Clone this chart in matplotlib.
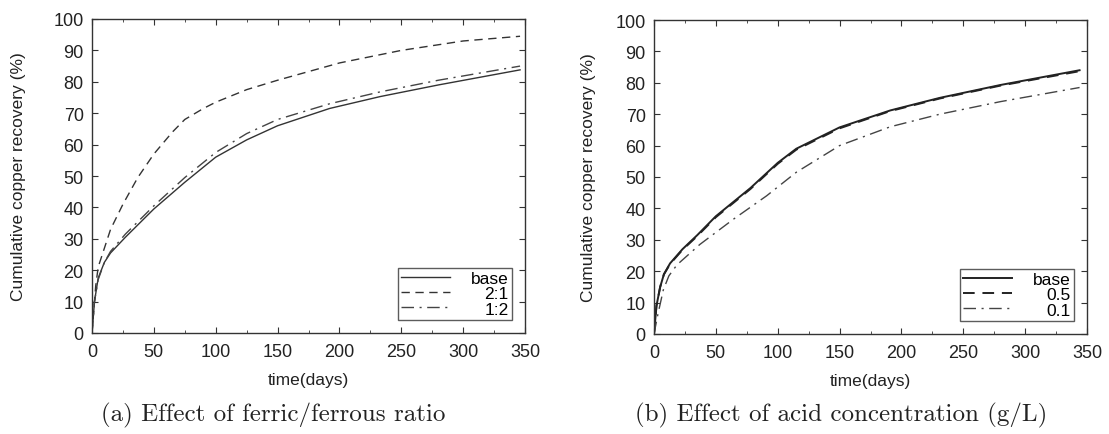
import matplotlib
matplotlib.use("Agg")
import matplotlib.pyplot as plt
from matplotlib.ticker import MultipleLocator

# ---- data: cumulative copper recovery (%) vs time (days) ----
# (a) ferric/ferrous ratio
t_base_a = [0, 2, 5, 10, 15, 27, 50, 75, 100, 125, 150, 192, 233, 280, 346]
y_base_a = [0, 10, 17.5, 22.5, 25.5, 30.5, 39.5, 48, 56, 61.5, 66, 71.5, 75.3, 79, 83.8]
t_21 = [0, 3, 5, 10, 15, 25, 37, 50, 65, 75, 90, 100, 125, 150, 200, 250, 300, 346]
y_21 = [0, 15, 21, 27, 33, 41, 49.5, 57, 64, 68, 71.5, 73.5, 77.5, 80.5, 86, 90, 93, 94.5]
t_12 = [0, 2, 5, 10, 15, 27, 50, 75, 100, 125, 150, 192, 233, 280, 346]
y_12 = [0, 10, 17, 22.5, 26, 31.5, 40.5, 49.5, 57.5, 63.5, 68, 73, 76.8, 80.5, 85]

# (b) acid concentration (g/L)
t_base_b = [0, 2, 5, 8, 13, 23, 35, 50, 78, 100, 115, 150, 191, 231, 280, 344]
y_base_b = [0, 9, 15, 19, 22.5, 27, 31.5, 37.5, 46.5, 54.5, 59, 65.8, 71.2, 75.2, 79.3, 84]
t_05 = [0, 2, 5, 8, 13, 23, 35, 50, 78, 100, 115, 150, 191, 231, 280, 344]
y_05 = [0, 9, 15, 19, 22.3, 26.8, 31.2, 37.2, 46.2, 54.2, 58.7, 65.5, 71, 75, 79.1, 83.7]
t_01 = [0, 3, 7.5, 12, 18.5, 37, 64, 91, 115, 150, 191, 231, 280, 344]
y_01 = [0, 6, 14, 18.5, 22, 28.5, 36.5, 44, 51.5, 60, 66, 70, 74, 78.5]

labels_a = ["base", "2:1", "1:2"]
labels_b = ["base", "0.5", "0.1"]
captions = ["(a) Effect of ferric/ferrous ratio",
            "(b) Effect of acid concentration (g/L)"]
x_ticks = [0, 50, 100, 150, 200, 250, 300, 350]
y_ticks = [0, 10, 20, 30, 40, 50, 60, 70, 80, 90, 100]

W, H = 1109, 435
fig = plt.figure(figsize=(W / 100, H / 100), dpi=100)
plt.rcParams["font.family"] = ["Liberation Sans", "DejaVu Sans"]

def px_axes(x0, x1, ytop, ybot):
    return fig.add_axes([x0 / W, (H - ybot) / H, (x1 - x0) / W, (ybot - ytop) / H])

ax_a = px_axes(92, 525, 20, 334)
ax_b = px_axes(654, 1087, 21, 335)

solid = dict(color="#333333", lw=1.0, linestyle="-")
dashed = dict(color="#333333", lw=1.0, linestyle=(0, (6, 4)))
dashdot = dict(color="#444444", lw=1.0, linestyle=(0, (9, 4, 1.5, 4)))

ax_a.plot(t_base_a, y_base_a, label=labels_a[0], **solid)
ax_a.plot(t_21, y_21, label=labels_a[1], **dashed)
ax_a.plot(t_12, y_12, label=labels_a[2], **dashdot)

ax_b.plot(t_base_b, y_base_b, label=labels_b[0], **{**solid, "lw": 1.4, "color": "#222222"})
ax_b.plot(t_05, y_05, label=labels_b[1], **{**dashed, "lw": 1.4, "color": "#222222"})
ax_b.plot(t_01, y_01, label=labels_b[2], **dashdot)

legends = []
panels = [(ax_a, captions[0], 273, -0.169), (ax_b, captions[1], 841, -0.152)]
for ax, cap, cx, ylab_x in panels:
    ax.set_xlim(0, 350)
    ax.set_ylim(0, 100)
    ax.set_xticks(x_ticks)
    ax.set_yticks(y_ticks)
    ax.xaxis.set_minor_locator(MultipleLocator(25))
    ax.tick_params(which="both", direction="in", top=True, right=True,
                   labelsize=13, color="#333333", labelcolor="#222222")
    ax.tick_params(which="major", length=4)
    ax.tick_params(axis="x", which="major", pad=7)
    ax.tick_params(axis="y", which="major", pad=6)
    ax.tick_params(which="minor", length=2)
    ax.tick_params(axis="y", which="minor", left=False, right=False)
    for s in ax.spines.values():
        s.set_color("#333333")
        s.set_linewidth(1.0)
    ax.set_xlabel("time(days)", fontsize=12.5, color="#222222")
    ax.xaxis.set_label_coords(0.5, -0.124)
    ax.set_ylabel("Cumulative copper recovery (%)", fontsize=12.5,
                  color="#222222", va="center")
    ax.yaxis.set_label_coords(ylab_x, 0.5)
    fig.text(cx / W, 1 - 415 / H, cap, fontsize=18, family="cmr10",
             ha="center", va="center", color="#222222")
    leg = ax.legend(loc="lower right", fontsize=12.5, frameon=True, fancybox=False,
                    handlelength=2.8, handletextpad=1.2, borderpad=0.2,
                    labelspacing=0.0, borderaxespad=0.75)
    leg.get_frame().set_edgecolor("#333333")
    leg.get_frame().set_linewidth(1.0)
    legends.append(leg)

# right-align legend labels
fig.canvas.draw()
rend = fig.canvas.get_renderer()
for leg in legends:
    texts = leg.get_texts()
    widths = [t.get_window_extent(rend).width for t in texts]
    wmax = max(widths)
    for t, w in zip(texts, widths):
        t.set_x(wmax - w)

fig.savefig("out.png", dpi=100)
